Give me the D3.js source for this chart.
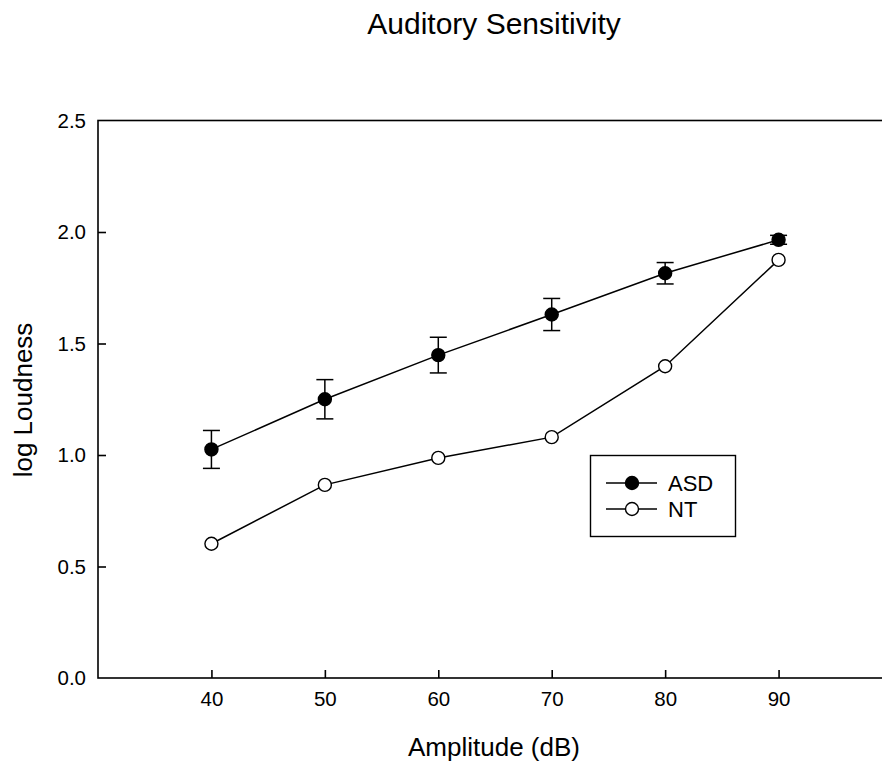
<!DOCTYPE html>
<html><head><meta charset="utf-8">
<script src="https://cdn.jsdelivr.net/npm/d3@7/dist/d3.min.js"></script>
<style>body{margin:0;background:#fff}text{font-family:"Liberation Sans",Arial,sans-serif}</style>
</head><body><svg id="c" width="882" height="763"></svg>
<script>
const amplitudes = [40, 50, 60, 70, 80, 90];
const asdMean = [1.025, 1.250, 1.448, 1.630, 1.815, 1.965];
const asdErr  = [0.085, 0.088, 0.080, 0.072, 0.048, 0.020];
const ntMean  = [0.602, 0.866, 0.987, 1.080, 1.398, 1.875];
const yTicks = [0.0, 0.5, 1.0, 1.5, 2.0, 2.5];
const xTicks = [40, 50, 60, 70, 80, 90];

const svg = d3.select("#c");
const L = 98, R = 892, T = 120.5, B = 678;
const x = d3.scaleLinear().domain([30, 100]).range([L, R]);
const y = d3.scaleLinear().domain([0, 2.5]).range([B, T]);

// frame
svg.append("rect").attr("x", L).attr("y", T).attr("width", R - L).attr("height", B - T)
  .attr("fill", "none").attr("stroke", "#000").attr("stroke-width", 1.6);

// axes
const xa = svg.append("g").attr("transform", `translate(0,${B})`)
  .call(d3.axisBottom(x).tickValues(xTicks).tickSize(-8).tickPadding(13).tickFormat(d3.format("d")));
const ya = svg.append("g").attr("transform", `translate(${L},0)`)
  .call(d3.axisLeft(y).tickValues(yTicks).tickSize(-8).tickPadding(12).tickFormat(d3.format(".1f")));
[xa, ya].forEach(a => {
  a.attr("font-size", null).attr("font-family", null);
  a.select(".domain").remove();
  a.selectAll(".tick line").attr("stroke", "#000").attr("stroke-width", 1.6);
  a.selectAll(".tick text").attr("fill", "#000")
    .style("font-size", "20.5px")
    .style("font-family", '"Liberation Sans",Arial,sans-serif');
});
ya.selectAll(".tick").filter(d => d === 0 || d === 2.5).select("line").remove();

const line = d3.line().x((d, i) => x(amplitudes[i])).y(d => y(d));
// NT
svg.append("path").datum(ntMean).attr("d", line).attr("fill", "none").attr("stroke", "#000").attr("stroke-width", 1.5);
// ASD
svg.append("path").datum(asdMean).attr("d", line).attr("fill", "none").attr("stroke", "#000").attr("stroke-width", 1.5);

// error bars
const eb = svg.append("g").attr("stroke", "#000").attr("stroke-width", 1.5);
asdMean.forEach((m, i) => {
  const cx = x(amplitudes[i]);
  const y1 = y(m + asdErr[i]), y2 = y(m - asdErr[i]);
  eb.append("line").attr("x1", cx).attr("x2", cx).attr("y1", y1).attr("y2", y2);
  eb.append("line").attr("x1", cx - 8.5).attr("x2", cx + 8.5).attr("y1", y1).attr("y2", y1);
  eb.append("line").attr("x1", cx - 8.5).attr("x2", cx + 8.5).attr("y1", y2).attr("y2", y2);
});

svg.append("g").selectAll("circle").data(ntMean).join("circle")
  .attr("cx", (d, i) => x(amplitudes[i])).attr("cy", d => y(d)).attr("r", 6.5)
  .attr("fill", "#fff").attr("stroke", "#000").attr("stroke-width", 1.4);
svg.append("g").selectAll("circle").data(asdMean).join("circle")
  .attr("cx", (d, i) => x(amplitudes[i])).attr("cy", d => y(d)).attr("r", 6.5)
  .attr("fill", "#000").attr("stroke", "#000").attr("stroke-width", 1.4);

// legend
const lg = svg.append("g");
lg.append("rect").attr("x", 590.5).attr("y", 455.5).attr("width", 145).attr("height", 81)
  .attr("fill", "#fff").attr("stroke", "#000").attr("stroke-width", 1.4);
const items = [{name: "ASD", fill: "#000", yy: 483}, {name: "NT", fill: "#fff", yy: 509}];
items.forEach(it => {
  lg.append("line").attr("x1", 606).attr("x2", 657).attr("y1", it.yy).attr("y2", it.yy)
    .attr("stroke", "#000").attr("stroke-width", 1.5);
  lg.append("circle").attr("cx", 632).attr("cy", it.yy).attr("r", 6.5)
    .attr("fill", it.fill).attr("stroke", "#000").attr("stroke-width", 1.4);
  lg.append("text").attr("x", 668).attr("y", it.yy + 8).style("font-size", "22px").text(it.name);
});

// titles
svg.append("text").attr("x", 494).attr("y", 34).attr("text-anchor", "middle").style("font-size", "30px")
  .text("Auditory Sensitivity");
svg.append("text").attr("x", 494).attr("y", 756).attr("text-anchor", "middle").style("font-size", "26px")
  .text("Amplitude (dB)");
svg.append("text").attr("transform", "translate(32,400) rotate(-90)").attr("text-anchor", "middle")
  .style("font-size", "26px").text("log Loudness");
</script></body></html>
